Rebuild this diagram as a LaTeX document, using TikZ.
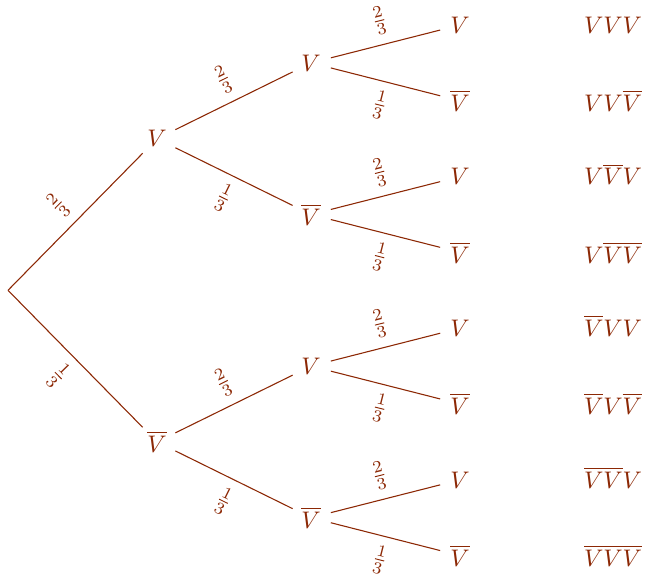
\documentclass[tikz,border=0pt]{standalone}
\usepackage{xcolor}
\definecolor{treebrown}{RGB}{140,40,5}
\begin{document}
\begin{tikzpicture}[x=0.41667pt,y=-0.41667pt,
  tn/.style={circle, minimum size=16.67pt, inner sep=0pt, text=treebrown},
  res/.style={anchor=base, inner sep=0pt, text=treebrown},
  lab/.style={sloped, pos=0.5, inner sep=3.8pt, text=treebrown},
  br/.style={draw=treebrown, line width=0.45pt}]
\useasboundingbox (0,0) rectangle (647,577);
\coordinate (R) at (8,290.3);
\node[tn] (A1) at (157,138.7) {$V$};
\node[tn] (A2) at (157,441.9) {$\overline{V}$};
\node[tn] (B1) at (311,62.9) {$V$};
\node[tn] (B2) at (311,214.5) {$\overline{V}$};
\node[tn] (B3) at (311,366.1) {$V$};
\node[tn] (B4) at (311,517.7) {$\overline{V}$};
\node[tn] (C1) at (460,25) {$V$};
\node[tn] (C2) at (460,100.8) {$\overline{V}$};
\node[tn] (C3) at (460,176.6) {$V$};
\node[tn] (C4) at (460,252.4) {$\overline{V}$};
\node[tn] (C5) at (460,328.2) {$V$};
\node[tn] (C6) at (460,404) {$\overline{V}$};
\node[tn] (C7) at (460,479.8) {$V$};
\node[tn] (C8) at (460,555.6) {$\overline{V}$};
\draw[br] (R) -- node[lab,above]{$\frac{2}{3}$} (A1);
\draw[br] (R) -- node[lab,below]{$\frac{1}{3}$} (A2);
\draw[br] (A1) -- node[lab,above]{$\frac{2}{3}$} (B1);
\draw[br] (A1) -- node[lab,below]{$\frac{1}{3}$} (B2);
\draw[br] (A2) -- node[lab,above]{$\frac{2}{3}$} (B3);
\draw[br] (A2) -- node[lab,below]{$\frac{1}{3}$} (B4);
\draw[br] (B1) -- node[lab,above]{$\frac{2}{3}$} (C1);
\draw[br] (B1) -- node[lab,below]{$\frac{1}{3}$} (C2);
\draw[br] (B2) -- node[lab,above]{$\frac{2}{3}$} (C3);
\draw[br] (B2) -- node[lab,below]{$\frac{1}{3}$} (C4);
\draw[br] (B3) -- node[lab,above]{$\frac{2}{3}$} (C5);
\draw[br] (B3) -- node[lab,below]{$\frac{1}{3}$} (C6);
\draw[br] (B4) -- node[lab,above]{$\frac{2}{3}$} (C7);
\draw[br] (B4) -- node[lab,below]{$\frac{1}{3}$} (C8);
\coordinate (xr) at (613,0);
\node[res] (r1) at (xr |- C1.base) {$VVV$};
\node[res] (r2) at (xr |- C2.base) {$VV\overline{V}$};
\node[res] (r3) at (xr |- C3.base) {$V\overline{V}V$};
\node[res] (r4) at (xr |- C4.base) {$V\overline{V}\overline{V}$};
\node[res] (r5) at (xr |- C5.base) {$\overline{V}VV$};
\node[res] (r6) at (xr |- C6.base) {$\overline{V}V\overline{V}$};
\node[res] (r7) at (xr |- C7.base) {$\overline{V}\overline{V}V$};
\node[res] (r8) at (xr |- C8.base) {$\overline{V}\overline{V}\overline{V}$};
\end{tikzpicture}
\end{document}
